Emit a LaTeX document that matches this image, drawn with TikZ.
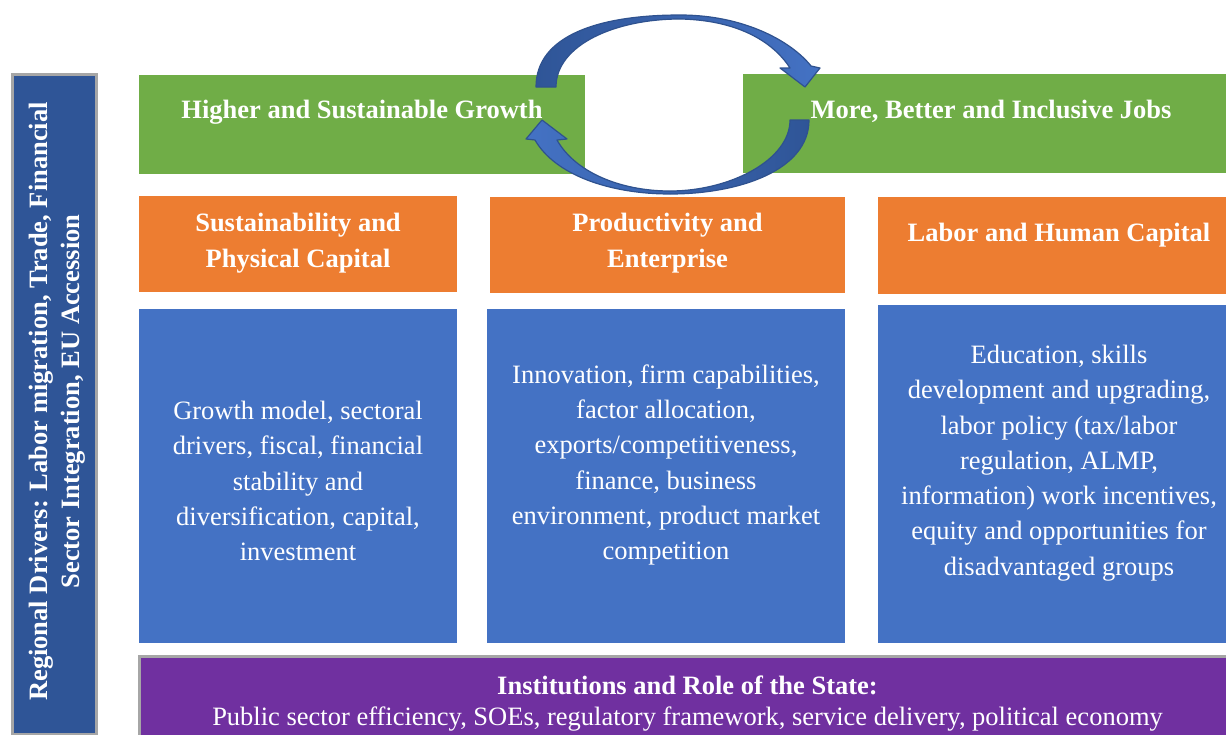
\documentclass[tikz,border=0pt]{standalone}
\usepackage{fontspec}
\setmainfont{Liberation Serif}

\definecolor{growthgreen}{HTML}{70AD47}
\definecolor{pillarorange}{HTML}{ED7D31}
\definecolor{detailblue}{HTML}{4472C4}
\definecolor{driverblue}{HTML}{2F5597}
\definecolor{statepurple}{HTML}{7030A0}
\definecolor{framegray}{HTML}{A6A6A6}
\definecolor{arrowdark}{HTML}{2F5597}
\definecolor{arrowlight}{HTML}{4472C4}
\definecolor{arrowedge}{HTML}{2F528F}

\tikzset{
  panel/.style={anchor=north west, inner sep=0pt, outer sep=0pt, draw=none},
  framed/.style={panel, draw=framegray, line width=3pt},
  txt/.style={text=white, align=center, inner sep=0pt,
              font=\fontsize{26.5}{35.3}\selectfont},
  boldtxt/.style={txt, font=\fontsize{26.5}{35.8}\selectfont\bfseries},
  cyclearrow/.style={draw=arrowedge, line width=1.2pt, line join=round}
}

\begin{document}
\begin{tikzpicture}[x=1pt,y=-1pt]
\useasboundingbox (0,0) rectangle (1226,734);
\clip (0,0) rectangle (1226,734);

% regional drivers bar on the left
\node[framed, fill=driverblue, minimum width=84, minimum height=660] (drivers) at (12.5,74.5) {};
\node[boldtxt, font=\fontsize{26.5}{32}\selectfont\bfseries, rotate=90] (driverstxt) at (57.5,401.5)
  {Regional Drivers: Labor migration, Trade, Financial\\Sector Integration, EU Accession};

% outcome boxes
\node[panel, fill=growthgreen, minimum width=446, minimum height=99] (growth) at (139,75) {};
\node[panel, fill=growthgreen, minimum width=500, minimum height=99] (jobs) at (743,74) {};
\node[boldtxt] (growthtxt) at (362,112.5) {Higher and Sustainable Growth};
\node[boldtxt] (jobstxt) at (991,111.5) {More, Better and Inclusive Jobs};

% pillar headers
\node[panel, fill=pillarorange, minimum width=318, minimum height=96] (sust) at (139,196) {};
\node[panel, fill=pillarorange, minimum width=355, minimum height=96] (prod) at (490,197) {};
\node[panel, fill=pillarorange, minimum width=365, minimum height=97] (labor) at (878,197) {};
\node[boldtxt] (susttxt) at (298,243) {Sustainability and\\Physical Capital};
\node[boldtxt] (prodtxt) at (667.5,243) {Productivity and\\Enterprise};
\node[boldtxt] (labortxt) at (1059,235) {Labor and Human Capital};

% pillar contents
\node[panel, fill=detailblue, minimum width=318, minimum height=334] (sustbody) at (139,309) {};
\node[panel, fill=detailblue, minimum width=358, minimum height=334] (prodbody) at (487,309) {};
\node[panel, fill=detailblue, minimum width=365, minimum height=338] (laborbody) at (878,305) {};
\node[txt] (sustbodytxt) at (298,481)
  {Growth model, sectoral\\drivers, fiscal, financial\\stability and\\diversification, capital,\\investment};
\node[txt] (prodbodytxt) at (666,465)
  {Innovation, firm capabilities,\\factor allocation,\\exports/competitiveness,\\finance, business\\environment, product market\\competition};
\node[txt] (laborbodytxt) at (1059,463)
  {Education, skills\\development and upgrading,\\labor policy (tax/labor\\regulation, ALMP,\\information) work incentives,\\equity and opportunities for\\disadvantaged groups};

% institutions bar at the bottom
\node[framed, fill=statepurple, minimum width=1110, minimum height=100] (state) at (139.5,656.5) {};
\node[txt, font=\fontsize{26.5}{31}\selectfont] (statetxt) at (687.5,704)
  {\textbf{Institutions and Role of the State:}\\Public sector efficiency, SOEs, regulatory framework, service delivery, political economy};

% growth -> jobs (over the top)
\shadedraw[cyclearrow, left color=arrowdark, right color=arrowlight]
  (536,87) .. controls (536,35) and (600,15) .. (680,15)
  .. controls (745,15) and (792,42) .. (811,66)
  -- (820,68) -- (805,87) -- (780,68) -- (790,68)
  .. controls (772,40) and (735,20) .. (680,19)
  .. controls (615,19) and (556,45) .. (556,87) -- cycle;

% jobs -> growth (under the bottom)
\shadedraw[cyclearrow, left color=arrowlight, right color=arrowdark]
  (809,120) .. controls (809,170) and (740,194) .. (670,194)
  .. controls (610,194) and (555,175) .. (535,140)
  -- (526,139) -- (542,120) -- (567,139) -- (557,140)
  .. controls (575,172) and (620,191) .. (670,191)
  .. controls (730,191) and (790,160) .. (790,120) -- cycle;
\end{tikzpicture}
\end{document}
